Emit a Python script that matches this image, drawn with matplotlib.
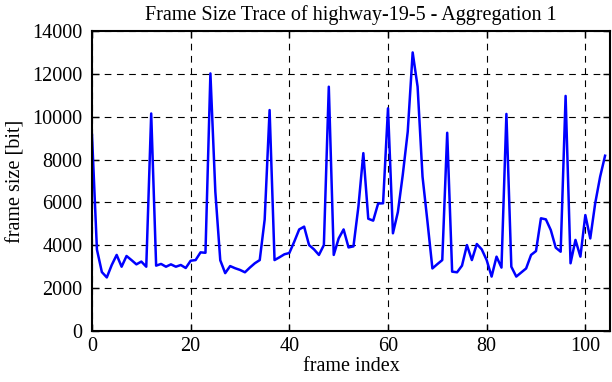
import matplotlib
matplotlib.use("Agg")
import matplotlib.pyplot as plt
import numpy as np

frame_size = [
    9150, 3800, 2750, 2500, 3080, 3550, 3000, 3500, 3310, 3110,
    3240, 3000, 10150, 3050, 3130, 3000, 3110, 3000, 3080, 2940,
    3280, 3310, 3670, 3650, 12020, 6500, 3300, 2700, 3030, 2930,
    2850, 2740, 2960, 3160, 3310, 5200, 10310, 3310, 3440, 3580,
    3640, 4170, 4740, 4870, 4010, 3810, 3550, 4010, 11400, 3550,
    4320, 4740, 3900, 3950, 5800, 8300, 5240, 5150, 5950, 5960,
    10390, 4560, 5550, 7300, 9300, 13000, 11400, 7200, 5100, 2920,
    3120, 3310, 9250, 2770, 2740, 3050, 4010, 3310, 4060, 3810,
    3310, 2540, 3470, 2960, 10130, 3000, 2540, 2730, 2920, 3550,
    3730, 5260, 5210, 4710, 3890, 3700, 10970, 3160, 4250, 3470,
    5410, 4320, 5960, 7200, 8180,
]
frame_index = list(range(len(frame_size)))

x_ticks = [0, 20, 40, 60, 80, 100]
y_ticks = [0, 2000, 4000, 6000, 8000, 10000, 12000, 14000]

plt.rcParams['font.family'] = ['Liberation Serif', 'DejaVu Serif']

fig = plt.figure(figsize=(6.12, 3.82), dpi=100)
ax = fig.add_axes([92/612, 51/382, 518/612, 300/382])

ax.plot(frame_index, frame_size, color='#0000ff', lw=1.8)

ax.set_xlim(0, 105)
ax.set_ylim(0, 14000)
ax.set_xticks(x_ticks)
ax.set_yticks(y_ticks)
ax.tick_params(direction='in', length=5, width=1, top=True, right=True,
               labelsize=14.5, pad=4)
ax.tick_params(axis='y', pad=7)
ax.grid(True, color='black', linestyle=(0, (6, 5)), linewidth=0.8)
for s in ax.spines.values():
    s.set_linewidth(1.5)

ax.set_title('Frame Size Trace of highway-19-5 - Aggregation 1', fontsize=14.5, pad=8)
ax.set_xlabel('frame index', fontsize=14.5, labelpad=1)
ax.set_ylabel('frame size [bit]', fontsize=14.5, labelpad=5)

fig.savefig('out.png', dpi=100)
